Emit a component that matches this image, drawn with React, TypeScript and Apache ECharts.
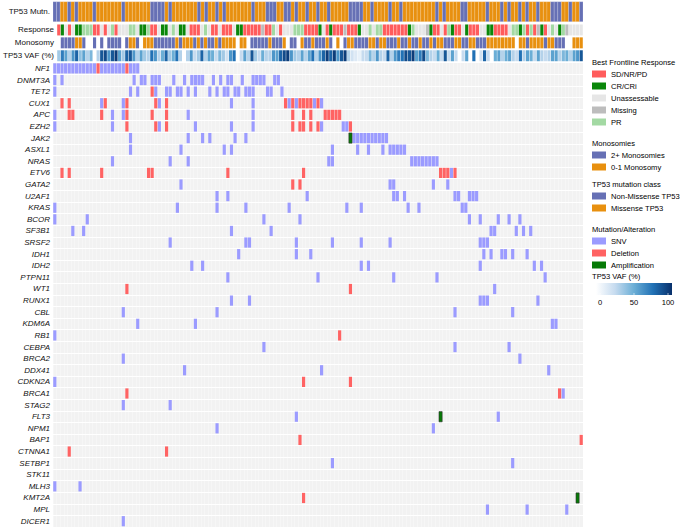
import React, { useEffect, useRef } from "react";
import * as echarts from "echarts";

// ---------- data ----------
const columnCount = 147;
const columnIds: string[] = Array.from({ length: columnCount }, (_, i) => "S" + (i + 1));

const tp53ClassLabels = ["Non-Missense TP53", "Missense TP53"];
// 0 = Non-Missense, 1 = Missense
const tp53Class = [
  0, 0, 1, 1, 0, 1, 0, 1, 1, 1,
  1, 0, 1, 1, 1, 1, 1, 1, 1, 0,
  1, 1, 1, 1, 1, 1, 1, 0, 0, 0,
  0, 1, 0, 1, 1, 1, 1, 1, 1, 1,
  0, 1, 0, 1, 1, 0, 1, 0, 1, 1,
  1, 1, 1, 1, 1, 0, 1, 1, 1, 0,
  0, 0, 1, 1, 0, 0, 1, 0, 1, 1,
  0, 1, 1, 0, 1, 1, 0, 1, 1, 1,
  1, 1, 0, 0, 0, 0, 1, 1, 0, 1,
  1, 1, 1, 0, 1, 1, 0, 1, 1, 1,
  1, 1, 1, 1, 1, 1, 0, 1, 0, 1,
  1, 1, 1, 0, 0, 1, 1, 1, 1, 1,
  0, 1, 1, 1, 0, 1, 0, 1, 1, 0,
  1, 0, 1, 1, 0, 1, 1, 1, 0, 0,
  0, 1, 1, 0, 1, 1, 0,
];

const responseLabels = ["SD/NR/PD", "CR/CRi", "Unassessable", "Missing", "PR"];
const response = [
  0, 1, 2, 0, 2, 1, 1, 4, 4, 4,
  0, 0, 2, 0, 2, 4, 0, 2, 2, 2,
  4, 4, 2, 1, 1, 4, 0, 0, 2, 1,
  1, 2, 4, 2, 1, 1, 2, 0, 0, 0,
  2, 4, 2, 0, 0, 2, 0, 0, 0, 2,
  1, 1, 0, 0, 0, 0, 0, 3, 0, 0,
  4, 2, 0, 2, 2, 2, 4, 4, 4, 0,
  0, 0, 0, 1, 2, 0, 1, 0, 0, 0,
  3, 0, 0, 0, 1, 2, 2, 4, 2, 4,
  4, 0, 0, 0, 0, 0, 0, 0, 1, 4,
  2, 2, 2, 3, 1, 0, 0, 2, 0, 4,
  1, 0, 0, 2, 1, 0, 0, 0, 2, 2,
  1, 1, 0, 0, 0, 0, 2, 4, 4, 1,
  4, 0, 4, 0, 3, 1, 0, 2, 4, 2,
  1, 4, 3, 2, 2, 2, 2,
];

const monosomyLabels = ["2+ Monosomies", "0-1 Monosomy"];
// 0 = 2+, 1 = 0-1, -1 = not available
const monosomy = [
  -1, 0, 0, 0, 0, 1, 1, 0, -1, -1,
  0, -1, 0, -1, 0, 0, 0, 0, -1, 0,
  1, 1, 0, -1, 1, 1, 1, 0, 0, 0,
  0, 0, 0, 1, 0, 1, 1, 1, 0, 1,
  0, 1, 0, 0, 1, 0, 1, 1, 1, 1,
  -1, 1, 1, -1, 0, 0, 0, 0, 0, 1,
  0, 0, 0, 1, -1, 0, 0, -1, 1, 0,
  0, 1, 0, 0, 0, 1, 0, -1, 1, -1,
  0, 1, 1, 0, 0, 0, 0, 1, 1, 0,
  1, 1, 0, 0, 0, 1, 0, 0, 1, 0,
  0, 1, 0, 0, 1, 0, 1, 1, 0, 0,
  0, 1, 1, 0, 0, 1, 1, 0, 0, 0,
  1, 1, 1, 1, 1, 1, 1, 1, -1, 1,
  1, 0, 1, 1, 1, 1, 0, 1, 1, 0,
  0, 0, -1, -1, 1, 1, 1,
];

const tp53Vaf: (number | null)[] = [
  35, 70, 55, 30, 60, 80, 40, 55, 30, 45,
  null, 30, 85, 90, 60, 85, 95, 55, 35, 80,
  85, 60, 30, 55, 35, 30, 75, 60, 30, 50,
  80, 35, 50, 75, 30, null, 30, 60, 25, 35,
  80, 30, 55, 50, 25, 45, 35, 20, 60, 75,
  null, 25, 55, 30, 85, 35, 25, 50, 30, 30,
  60, 55, 80, 90, 95, 60, 35, 30, 55, 30,
  55, 75, 30, 60, 80, 95, 80, 95, 60, 85,
  95, 30, 20, 15, 10, 25, 25, 45, 30, 60,
  30, 25, 80, 30, 60, 70, 75, 90, 85, 95,
  55, 70, 90, 45, 30, 25, 50, 25, 85, 25,
  55, 25, null, 25, 55, null, 75, null, 20, 80,
  25, null, 50, 55, 30, 50, 55, 30, 25, 75,
  30, 55, 50, 25, 55, 30, 25, 30, 55, 55,
  30, 45, 50, 30, 55, 60, 85,
];
const vafTicks = [0, 50, 100];

const genes = [
  "NF1", "DNMT3A", "TET2", "CUX1", "APC", "EZH2", "JAK2", "ASXL1", "NRAS", "ETV6",
  "GATA2", "U2AF1", "KRAS", "BCOR", "SF3B1", "SRSF2", "IDH1", "IDH2", "PTPN11", "WT1",
  "RUNX1", "CBL", "KDM6A", "RB1", "CEBPA", "BRCA2", "DDX41", "CDKN2A", "BRCA1", "STAG2",
  "FLT3", "NPM1", "BAP1", "CTNNA1", "SETBP1", "STK11", "MLH3", "KMT2A", "MPL", "DICER1",
];

const alterationLabels = ["SNV", "Deletion", "Amplification"];

// sample columns carrying each alteration, one list per gene (same order as genes)
const snvCols: number[][] = [
  [0, 1, 2, 3, 4, 5, 6, 7, 8, 9, 10, 11, 13, 14, 15, 16, 17, 18, 19, 21, 22, 23],
  [0, 2, 22, 24, 25, 27, 28, 29, 33, 36, 38, 39, 40, 41, 44, 46, 48, 49, 52, 55, 56, 57, 58, 61, 62],
  [0, 21, 23, 28, 31, 32, 34, 35, 37, 39, 43, 45, 47, 48, 50, 51, 53, 54, 55, 59, 60, 63],
  [13, 19, 29, 49, 55, 65, 67, 72, 74],
  [0, 16, 19, 37, 55],
  [0, 16, 29, 39, 49, 55, 74, 80, 81],
  [21, 37, 41, 43, 50, 53, 83, 84, 85, 86, 87, 88, 89, 90, 91, 92],
  [21, 35, 47, 49, 77, 84, 87, 91, 93, 94, 95, 96, 97],
  [16, 32, 37, 76, 77, 99, 100, 101, 102, 103, 104, 105, 106],
  [110],
  [35, 93, 94, 105, 109],
  [45, 48, 70, 94, 95, 97, 111, 112, 115, 116, 117],
  [0, 34, 45, 53, 65, 81, 85, 98, 101, 113, 114],
  [0, 9, 58, 68, 115, 118, 123, 126, 129],
  [5, 8, 49, 60, 121, 122, 128, 130, 132],
  [32, 53, 54, 67, 77, 85, 93, 118, 119, 120],
  [51, 67, 71, 119, 121, 124, 125, 127, 131],
  [38, 41, 85, 87, 118, 133, 135],
  [48, 73, 94, 106, 136],
  [122],
  [49, 54, 118, 119, 120, 134],
  [19, 45, 111, 127],
  [23, 39, 138, 139],
  [0],
  [58, 111, 126],
  [19, 129],
  [36, 74, 137],
  [0],
  [141],
  [19, 32],
  [67, 123],
  [45, 105],
  [],
  [],
  [77, 127],
  [],
  [0, 7],
  [],
  [120, 131, 142],
  [19],
];

const delCols: number[][] = [
  [12, 20],
  [],
  [27],
  [2, 4, 14, 20, 28, 31, 64, 66, 68, 69, 70, 71, 73],
  [4, 5, 13, 20, 27, 31, 66, 69, 71, 75, 76, 77, 78, 79],
  [20, 28, 31, 66, 68, 69, 71, 73, 82],
  [],
  [],
  [],
  [2, 4, 13, 26, 27, 48, 69, 107, 108, 109, 111],
  [66, 68],
  [],
  [],
  [],
  [],
  [],
  [],
  [],
  [],
  [20, 82],
  [],
  [],
  [],
  [79],
  [],
  [],
  [],
  [69, 82],
  [20, 140],
  [],
  [],
  [],
  [68, 146],
  [4, 31],
  [],
  [],
  [],
  [69],
  [],
  [],
];

const ampCols: number[][] = [
  [], [], [], [], [], [], [82], [], [], [],
  [], [], [], [], [], [], [], [], [], [],
  [], [], [], [], [], [], [], [], [], [],
  [107], [], [], [], [], [], [], [145], [], [],
];

// ---------- styles ----------
const FONT = "'Liberation Sans', Arial, Helvetica, sans-serif";
const tp53Colors = ["#6670b5", "#e8900f"];
const responseColors = ["#ff5c5c", "#0a870a", "#e6e6e6", "#bdbdbd", "#a3d9a3"];
const monosomyColors = ["#6670b5", "#e8900f"];
const alterationColors = ["#9b9bff", "#ff6363", "#067a06"];
const vafColors = ["#ffffff", "#c6dbef", "#6baed6", "#2171b5", "#08306b"];

function cellRenderer(
  wf: number,
  hf: number,
  fillOf: (v: number, api: any) => string,
  stroke?: string,
  lineWidth?: number
) {
  return (_params: any, api: any) => {
    const x = api.value(0);
    const y = api.value(1);
    const v = api.value(2);
    const c = api.coord([x, y]);
    const s = api.size([1, 1]);
    const w = s[0] * wf;
    const h = s[1] * hf;
    return {
      type: "rect",
      shape: { x: c[0] - w / 2, y: c[1] - h / 2, width: w, height: h },
      style: { fill: fillOf(v, api), stroke: stroke || null, lineWidth: lineWidth || 0 },
    };
  };
}

function buildLegend(): any[] {
  const els: any[] = [];
  const sections = [
    { title: "Best Frontline Response", y: 62, labels: responseLabels, colors: responseColors },
    { title: "Monosomies", y: 143, labels: monosomyLabels, colors: monosomyColors },
    { title: "TP53 mutation class", y: 184, labels: tp53ClassLabels, colors: tp53Colors },
    { title: "Mutation/Alteration", y: 229, labels: alterationLabels, colors: alterationColors },
  ];
  const lx = 592;
  sections.forEach((sec) => {
    els.push({
      type: "text",
      x: lx,
      y: sec.y,
      style: { text: sec.title, fontSize: 7.6, fill: "#000", fontFamily: FONT, verticalAlign: "middle" },
    });
    sec.labels.forEach((lab, k) => {
      const yc = sec.y + 12 * (k + 1);
      els.push({
        type: "rect",
        shape: { x: lx, y: yc - 3.5, width: 14, height: 7 },
        style: { fill: sec.colors[k] },
      });
      els.push({
        type: "text",
        x: lx + 19,
        y: yc,
        style: { text: lab, fontSize: 7.6, fill: "#000", fontFamily: FONT, verticalAlign: "middle" },
      });
    });
  });
  els.push({
    type: "text",
    x: lx,
    y: 276,
    style: { text: "TP53 VAF (%)", fontSize: 7.6, fill: "#000", fontFamily: FONT, verticalAlign: "middle" },
  });
  const barX = 596;
  const barW = 76;
  els.push({
    type: "rect",
    shape: { x: barX, y: 283, width: barW, height: 12 },
    style: {
      fill: new echarts.graphic.LinearGradient(
        0, 0, 1, 0,
        vafColors.map((c, i) => ({ offset: i / (vafColors.length - 1), color: c }))
      ),
    },
  });
  const t0 = barX + 4;
  const tw = barW - 8;
  vafTicks.forEach((t) => {
    const tx = t0 + (t / 100) * tw;
    els.push({
      type: "line",
      shape: { x1: tx, y1: 293, x2: tx, y2: 295 },
      style: { stroke: "#fff", lineWidth: 0.6 },
    });
    els.push({
      type: "text",
      x: tx,
      y: 302,
      style: { text: String(t), fontSize: 7.6, fill: "#000", fontFamily: FONT, align: "center", verticalAlign: "middle" },
    });
  });
  return els;
}

function buildOption(): any {
  const gridLeft = 53;
  const gridWidth = 530;
  const snvData: number[][] = [];
  const delData: number[][] = [];
  const ampData: number[][] = [];
  genes.forEach((_g, gi) => {
    snvCols[gi].forEach((c) => snvData.push([c, gi, 0]));
    delCols[gi].forEach((c) => delData.push([c, gi, 1]));
    ampCols[gi].forEach((c) => ampData.push([c, gi, 2]));
  });
  const monoData: number[][] = [];
  monosomy.forEach((v, i) => {
    if (v >= 0) monoData.push([i, 1, v]);
  });
  const vafData: number[][] = [];
  tp53Vaf.forEach((v, i) => {
    if (v !== null) vafData.push([i, 2, v]);
  });

  const labelStyle = { fontSize: 8, color: "#111", margin: 3, fontFamily: FONT, interval: 0 };
  const hiddenAxisBits = { axisTick: { show: false }, axisLine: { show: false } };

  return {
    animation: false,
    backgroundColor: "#ffffff",
    textStyle: { fontFamily: FONT },
    grid: [
      { left: gridLeft, width: gridWidth, top: 1.7, height: 20 },
      { left: gridLeft, width: gridWidth, top: 23.5, height: 38.7 },
      {
        left: gridLeft, width: gridWidth, top: 62.6, height: 464.4,
        show: true, backgroundColor: "#f2f2f2", borderWidth: 0,
      },
    ],
    xAxis: [0, 1, 2].map((i) => ({
      type: "category",
      gridIndex: i,
      data: columnIds,
      axisLabel: { show: false },
      ...hiddenAxisBits,
      splitLine: {
        show: i === 2,
        interval: 0,
        lineStyle: { color: "rgba(255,255,255,0.6)", width: 0.5 },
      },
    })),
    yAxis: [
      { type: "category", gridIndex: 0, data: ["TP53 Mutn."], axisLabel: labelStyle, ...hiddenAxisBits },
      {
        type: "category", gridIndex: 1, inverse: true,
        data: ["Response", "Monosomy", "TP53 VAF (%)"],
        axisLabel: labelStyle, ...hiddenAxisBits,
      },
      {
        type: "category", gridIndex: 2, inverse: true, data: genes,
        axisLabel: { ...labelStyle, fontStyle: "italic" },
        ...hiddenAxisBits,
        splitLine: { show: true, interval: 0, lineStyle: { color: "#ffffff", width: 1.1 } },
      },
    ],
    visualMap: [
      {
        type: "continuous", show: false, seriesIndex: 3, dimension: 2,
        min: 0, max: 100, inRange: { color: vafColors },
      },
    ],
    series: [
      {
        type: "custom", name: "TP53 mutation class", xAxisIndex: 0, yAxisIndex: 0,
        data: tp53Class.map((v, i) => [i, 0, v]),
        encode: { x: 0, y: 1 },
        renderItem: cellRenderer(1, 1, (v) => tp53Colors[v], "rgba(255,255,255,0.35)", 0.5),
      },
      {
        type: "custom", name: "Response", xAxisIndex: 1, yAxisIndex: 1,
        data: response.map((v, i) => [i, 0, v]),
        encode: { x: 0, y: 1 },
        renderItem: cellRenderer(0.88, 0.85, (v) => responseColors[v]),
      },
      {
        type: "custom", name: "Monosomy", xAxisIndex: 1, yAxisIndex: 1,
        data: monoData,
        encode: { x: 0, y: 1 },
        renderItem: cellRenderer(0.88, 0.85, (v) => monosomyColors[v]),
      },
      {
        type: "custom", name: "TP53 VAF", xAxisIndex: 1, yAxisIndex: 1,
        data: vafData,
        encode: { x: 0, y: 1 },
        renderItem: cellRenderer(0.88, 0.85, (_v, api) => api.visual("color")),
      },
      {
        type: "custom", name: "SNV", xAxisIndex: 2, yAxisIndex: 2,
        data: snvData,
        encode: { x: 0, y: 1 },
        renderItem: cellRenderer(0.88, 0.88, () => alterationColors[0]),
      },
      {
        type: "custom", name: "Deletion", xAxisIndex: 2, yAxisIndex: 2,
        data: delData,
        encode: { x: 0, y: 1 },
        renderItem: cellRenderer(0.88, 0.88, () => alterationColors[1]),
      },
      {
        type: "custom", name: "Amplification", xAxisIndex: 2, yAxisIndex: 2,
        data: ampData,
        encode: { x: 0, y: 1 },
        renderItem: cellRenderer(0.88, 0.88, () => alterationColors[2], "#333", 0.6),
      },
    ],
    graphic: buildLegend(),
  };
}

export default function App() {
  const ref = useRef<HTMLDivElement>(null);
  useEffect(() => {
    if (!ref.current) return;
    const chart = echarts.init(ref.current, null, { renderer: "svg" });
    chart.setOption(buildOption());
    return () => chart.dispose();
  }, []);
  return (
    <div
      ref={ref}
      style={{ position: "fixed", left: 0, top: 0, width: 685, height: 527, background: "#fff" }}
    />
  );
}
